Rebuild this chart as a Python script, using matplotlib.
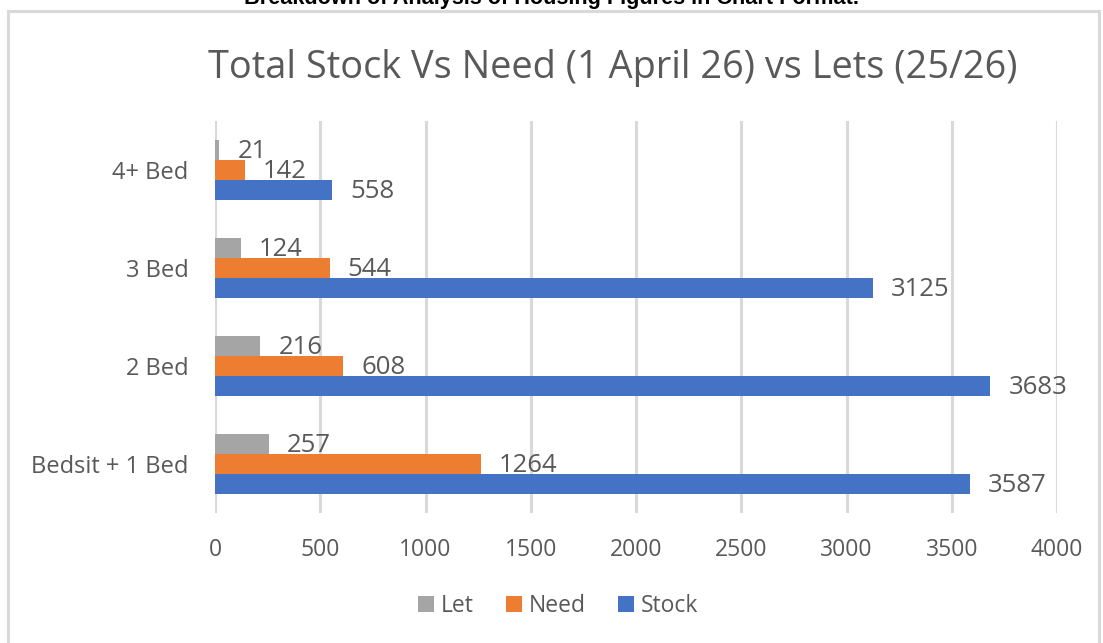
import matplotlib
matplotlib.use("Agg")
import matplotlib.pyplot as plt
import matplotlib.patches as mpatches
import numpy as np

# ── Data ─────────────────────────────────────────────────────────────────────
categories = ["Bedsit + 1 Bed", "2 Bed", "3 Bed", "4+ Bed"]
stock = [3587, 3683, 3125, 558]
need = [1264, 608, 544, 142]
let = [257, 216, 124, 21]
xticks = [0, 500, 1000, 1500, 2000, 2500, 3000, 3500, 4000]

TITLE = "Total Stock Vs Need (1 April 26) vs Lets (25/26)"
HEADER = "Breakdown of Analysis of Housing Figures in Chart Format."

# ── Style ────────────────────────────────────────────────────────────────────
C_LET = "#a5a5a5"
C_NEED = "#ed7d31"
C_STOCK = "#4472c4"
TXT = "#595959"
GRID = "#d9d9d9"

plt.rcParams["font.family"] = ["Open Sans", "DejaVu Sans"]

W, H = 1103, 643
fig = plt.figure(figsize=(W / 100, H / 100), dpi=100)
fig.patch.set_facecolor("white")

# chart border (Excel chart area)
fig.patches.append(mpatches.Rectangle(
    (8 / W, -0.05), (1099 - 8) / W, 1.05 - 11 / H,
    transform=fig.transFigure, fill=False, edgecolor=GRID, linewidth=2.2))

# document heading above the chart, cut off by the top edge as in the source
fig.text(552 / W, 1 - 4 / H, HEADER, ha="center", va="baseline",
         fontsize=15.6, fontweight="bold", color="black",
         family=["Liberation Sans", "DejaVu Sans"])

ax = fig.add_axes([215 / W, 1 - 513 / H, (1057 - 215) / W, (513 - 121) / H])

y = np.arange(len(categories))
bh = 0.204
series = [(stock, -bh, C_STOCK, "Stock"),
          (need, 0.0, C_NEED, "Need"),
          (let, bh, C_LET, "Let")]
handles = {}
for vals, off, col, name in series:
    bars = ax.barh(y + off, vals, height=bh, color=col, zorder=2, label=name)
    handles[name] = bars
    for v, yy in zip(vals, y + off):
        ax.annotate(str(v), (v, yy), xytext=(13, -1), textcoords="offset points",
                    ha="left", va="center", fontsize=18.5, color=TXT, zorder=3)

ax.set_xlim(0, 4000)
ax.set_ylim(-0.5, len(categories) - 0.5)
ax.set_xticks(xticks)
ax.set_xticklabels([str(t) for t in xticks])
ax.set_yticks(y)
ax.set_yticklabels(categories)
ax.tick_params(axis="x", length=0, pad=18, labelsize=16.5, labelcolor=TXT)
ax.tick_params(axis="y", length=0, pad=19, labelsize=17, labelcolor=TXT)
ax.grid(axis="x", color=GRID, linewidth=2.2, zorder=0)
ax.set_axisbelow(True)
for s in ax.spines.values():
    s.set_visible(False)

fig.text(613 / W, 1 - 68 / H, TITLE, ha="center", va="center",
         fontsize=27.3, color=TXT)

leg = fig.legend([handles["Let"], handles["Need"], handles["Stock"]],
                 ["Let", "Need", "Stock"], loc="center",
                 bbox_to_anchor=(558 / W, 1 - 606 / H), ncol=3, frameon=False,
                 fontsize=16.5, handlelength=0.7, handleheight=0.7,
                 handletextpad=0.3, columnspacing=1.4)
for t in leg.get_texts():
    t.set_color(TXT)

fig.savefig("out.png", dpi=100, facecolor="white")
